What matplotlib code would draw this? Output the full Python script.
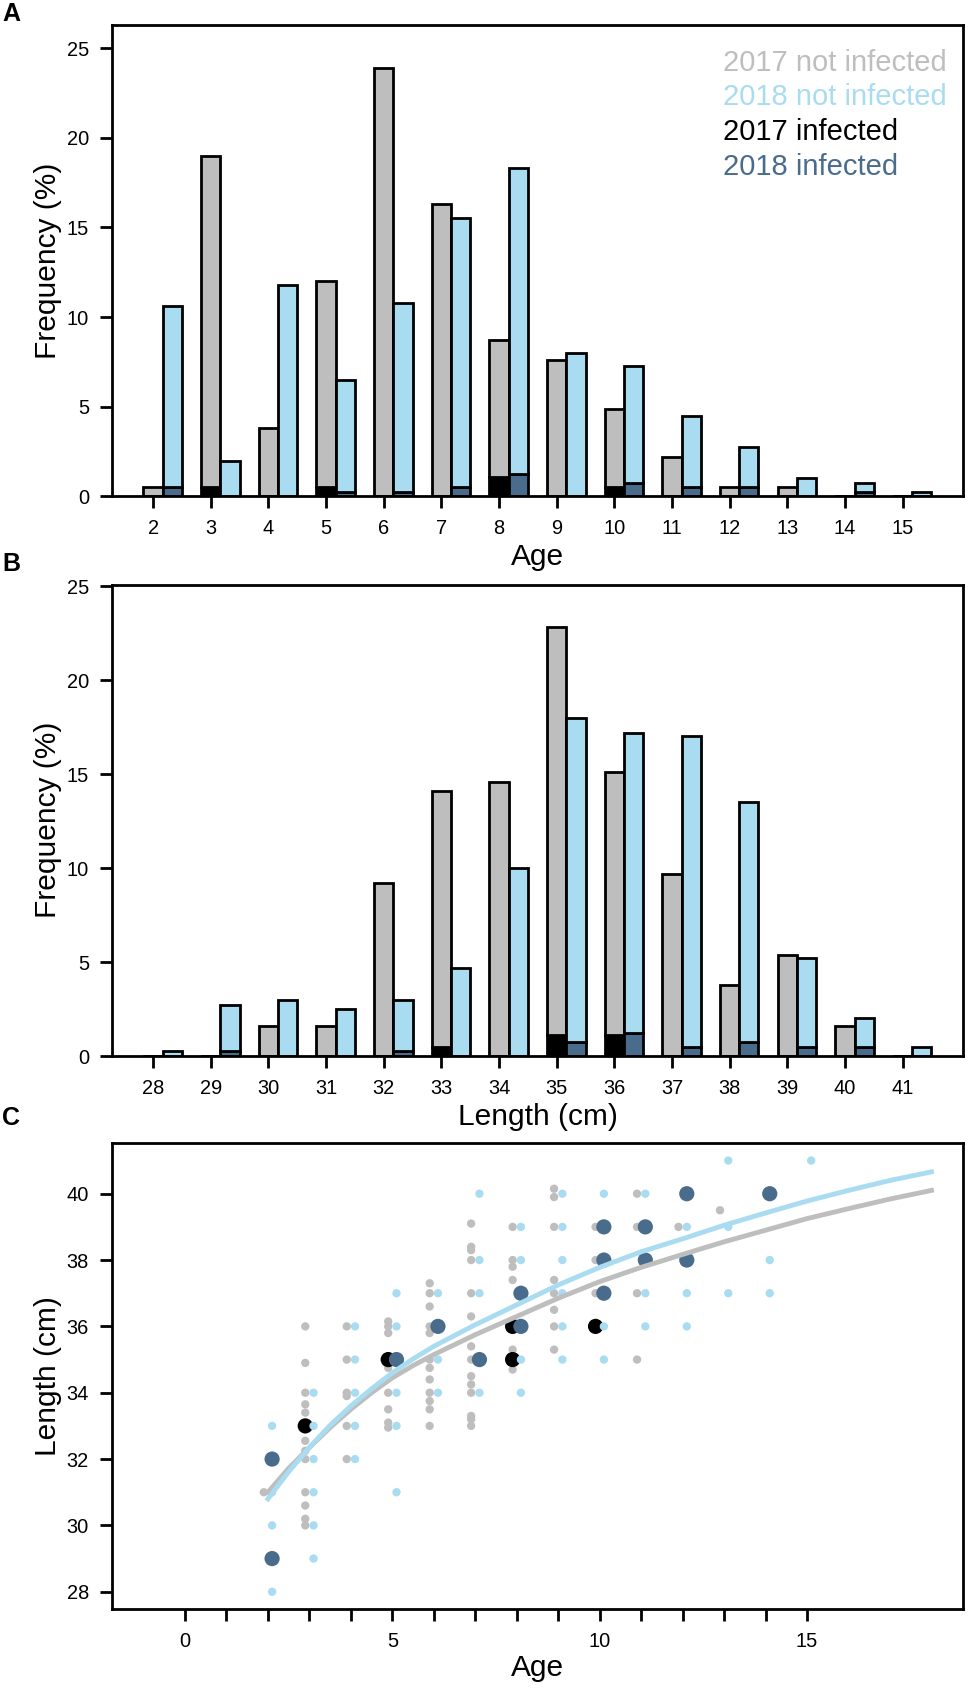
import matplotlib
matplotlib.use("Agg")
import matplotlib.pyplot as plt
import numpy as np

plt.rcParams['font.family'] = ['Liberation Sans', 'DejaVu Sans']

# cores
GRAY = '#BEBEBE'
LBLUE = '#A9DCF1'
BLACK = '#000000'
DBLUE = '#4A6C8C'

# ---------------- painel A: idade ----------------
ages = [2, 3, 4, 5, 6, 7, 8, 9, 10, 11, 12, 13, 14, 15]
a17_total = [0.5, 19.0, 3.8, 12.0, 23.9, 16.3, 8.7, 7.6, 4.9, 2.2, 0.5, 0.5, 0, 0]
a17_inf = [0, 0.5, 0, 0.5, 0, 0, 1.1, 0, 0.5, 0, 0, 0, 0, 0]
a18_total = [10.6, 2.0, 11.8, 6.5, 10.8, 15.5, 18.3, 8.0, 7.3, 4.5, 2.75, 1.0, 0.75, 0.25]
a18_inf = [0.5, 0, 0, 0.25, 0.25, 0.5, 1.25, 0, 0.75, 0.5, 0.5, 0, 0.25, 0]

# ---------------- painel B: comprimento ----------------
lengths = [28, 29, 30, 31, 32, 33, 34, 35, 36, 37, 38, 39, 40, 41]
b17_total = [0, 0, 1.6, 1.6, 9.2, 14.1, 14.6, 22.8, 15.1, 9.7, 3.8, 5.4, 1.6, 0]
b17_inf = [0, 0, 0, 0, 0, 0.5, 0, 1.1, 1.1, 0, 0, 0, 0, 0]
b18_total = [0.25, 2.7, 3.0, 2.5, 3.0, 4.7, 10.0, 18.0, 17.2, 17.0, 13.5, 5.2, 2.0, 0.5]
b18_inf = [0, 0.25, 0, 0, 0.25, 0, 0, 0.75, 1.25, 0.5, 0.75, 0.5, 0.5, 0]

# ---------------- painel C: idade x comprimento ----------------
c17_age = ([2] + [3] * 12 + [4] * 6 + [5] * 8 + [6] * 12 + [7] * 14 + [8] * 6
           + [9] * 8 + [10] * 3 + [11] * 4 + [12] + [13])
c17_len = ([31.0]
           + [36.0, 34.9, 34.0, 33.65, 33.4, 32.55, 32.25, 32.0, 31.0, 30.6, 30.2, 30.0]
           + [36.0, 35.0, 34.0, 33.9, 33.0, 32.0]
           + [36.15, 36.0, 35.8, 34.75, 34.0, 33.5, 33.1, 32.95]
           + [37.3, 37.0, 36.6, 36.0, 35.8, 35.0, 34.75, 34.4, 34.0, 33.75, 33.5, 33.0]
           + [39.1, 38.4, 38.3, 38.0, 37.0, 36.3, 35.4, 35.0, 34.5, 34.25, 34.0, 33.3, 33.2, 33.0]
           + [39.0, 38.0, 37.8, 37.4, 35.3, 34.7]
           + [40.15, 39.9, 39.0, 37.4, 37.0, 36.5, 36.0, 35.3]
           + [39.0, 38.0, 37.0]
           + [40.0, 39.0, 37.0, 35.0]
           + [39.0]
           + [39.5])
c17i_age = [3, 5, 8, 8, 10]
c17i_len = [33, 35, 36, 35, 36]
c18_age = ([2] * 4 + [3] * 6 + [4] * 5 + [5] * 5 + [6] * 3 + [7] * 4 + [8] * 4
           + [9] * 6 + [10] * 3 + [11] * 3 + [12] * 3 + [13] * 3 + [14] * 2 + [15])
c18_len = ([33, 31, 30, 28] + [34, 33, 32, 31, 30, 29] + [36, 35, 34, 33, 32]
           + [37, 36, 34, 33, 31] + [37, 35, 34] + [40, 38, 37, 34] + [39, 38, 35, 34]
           + [40, 39, 38, 37, 36, 35] + [40, 36, 35] + [40, 37, 36] + [39, 37, 36]
           + [41, 39, 37] + [38, 37] + [41])
c18i_age = [2, 2, 5, 6, 7, 8, 8, 10, 10, 10, 11, 11, 12, 12, 14]
c18i_len = [32, 29, 35, 36, 35, 37, 36, 39, 38, 37, 39, 38, 40, 38, 40]

# curvas de crescimento
fit_age = [2, 2.5, 3, 3.5, 4, 4.5, 5, 5.5, 6, 7, 8, 9, 10, 11, 12, 13, 14, 15, 16, 17, 18]
fit17 = [31.0, 31.72, 32.35, 32.95, 33.5, 34.0, 34.45, 34.82, 35.15, 35.75, 36.3, 36.85,
         37.35, 37.78, 38.17, 38.55, 38.9, 39.25, 39.55, 39.84, 40.1]
fit18 = [30.8, 31.62, 32.35, 33.02, 33.6, 34.12, 34.6, 35.02, 35.4, 36.05, 36.65, 37.25,
         37.78, 38.25, 38.64, 39.05, 39.42, 39.78, 40.1, 40.4, 40.66]

W, H = 970, 1696
fig = plt.figure(figsize=(W / 100, H / 100), dpi=100)

L, R = 112 / W, 963 / W


def ax_box(top_px, bot_px):
    return fig.add_axes([L, 1 - bot_px / H, R - L, (bot_px - top_px) / H])


TICK_FS = 14.4
LAB_FS = 21.5


def style(ax):
    for s in ax.spines.values():
        s.set_linewidth(2.0)
    ax.tick_params(direction='out', length=8.6, width=2.0, labelsize=TICK_FS, pad=8)


def bars(ax, x, t17, i17, t18, i18):
    x = np.array(x, dtype=float)
    w = 1 / 3
    n17 = np.array(t17) - np.array(i17)
    n18 = np.array(t18) - np.array(i18)
    kw = dict(width=w, edgecolor='black', linewidth=2.0, align='center')
    ax.bar(x, i17, color=BLACK, **kw)
    ax.bar(x, n17, bottom=i17, color=GRAY, **kw)
    ax.bar(x + w, i18, color=DBLUE, **kw)
    ax.bar(x + w, n18, bottom=i18, color=LBLUE, **kw)
    ax.set_xlim(x[0] - 0.713, x[-1] + 1.047)
    ax.set_ylim(0, 1.1 * max(max(t17), max(t18)))
    ax.set_xticks(x)
    ax.set_xticklabels([str(int(v)) for v in x])
    ax.set_yticks([0, 5, 10, 15, 20, 25])


# ---------------- A ----------------
axA = ax_box(25, 496.4)
bars(axA, ages, a17_total, a17_inf, a18_total, a18_inf)
style(axA)
axA.set_xlabel('Age', fontsize=LAB_FS, va='center')
axA.xaxis.set_label_coords(0.5, -0.128)
axA.set_ylabel('Frequency (%)', fontsize=LAB_FS, va='center')
axA.yaxis.set_label_coords(-0.075, 0.5)

leg_txt = ['2017 not infected', '2018 not infected', '2017 infected', '2018 infected']
leg_col = [GRAY, LBLUE, BLACK, DBLUE]
for i, (t, c) in enumerate(zip(leg_txt, leg_col)):
    axA.text(0.7177, 0.9204 - i * 0.0739, t, color=c, fontsize=21, transform=axA.transAxes,
             ha='left', va='center')

# ---------------- B ----------------
axB = ax_box(584.6, 1056)
bars(axB, lengths, b17_total, b17_inf, b18_total, b18_inf)
style(axB)
axB.set_xlabel('Length (cm)', fontsize=LAB_FS, va='center')
axB.xaxis.set_label_coords(0.5, -0.129)
axB.set_ylabel('Frequency (%)', fontsize=LAB_FS, va='center')
axB.yaxis.set_label_coords(-0.075, 0.5)

# ---------------- C ----------------
axC = ax_box(1143.3, 1609)
off = 0.1
axC.scatter(np.array(c17_age) - off, c17_len, s=36, color=GRAY, edgecolors='none', zorder=2)
axC.scatter(np.array(c17i_age) - off, c17i_len, s=120, color=BLACK, edgecolors='none', zorder=3)
axC.scatter(np.array(c18_age) + off, c18_len, s=36, color=LBLUE, edgecolors='none', zorder=4)
axC.scatter(np.array(c18i_age) + off, c18i_len, s=120, color=DBLUE, edgecolors='none', zorder=5)
axC.plot(fit_age, fit17, color=GRAY, lw=3.5, zorder=6, solid_joinstyle='round')
axC.plot(fit_age, fit18, color=LBLUE, lw=3.5, zorder=7, solid_joinstyle='round')
axC.set_xlim(-1.76, 18.76)
axC.set_ylim(27.48, 41.52)
axC.set_xticks(range(0, 16))
axC.set_xticklabels([str(v) if v % 5 == 0 else '' for v in range(0, 16)])
axC.set_yticks([28, 30, 32, 34, 36, 38, 40])
style(axC)
axC.set_xlabel('Age', fontsize=LAB_FS, va='center')
axC.xaxis.set_label_coords(0.5, -0.127)
axC.set_ylabel('Length (cm)', fontsize=LAB_FS, va='center')
axC.yaxis.set_label_coords(-0.075, 0.5)

# letras dos painéis
for lab, ypx in [('A', 14), ('B', 564), ('C', 1118)]:
    fig.text(11 / W, 1 - ypx / H, lab, fontsize=18, fontweight='bold', ha='center', va='center')

fig.savefig('out.png', dpi=100)
